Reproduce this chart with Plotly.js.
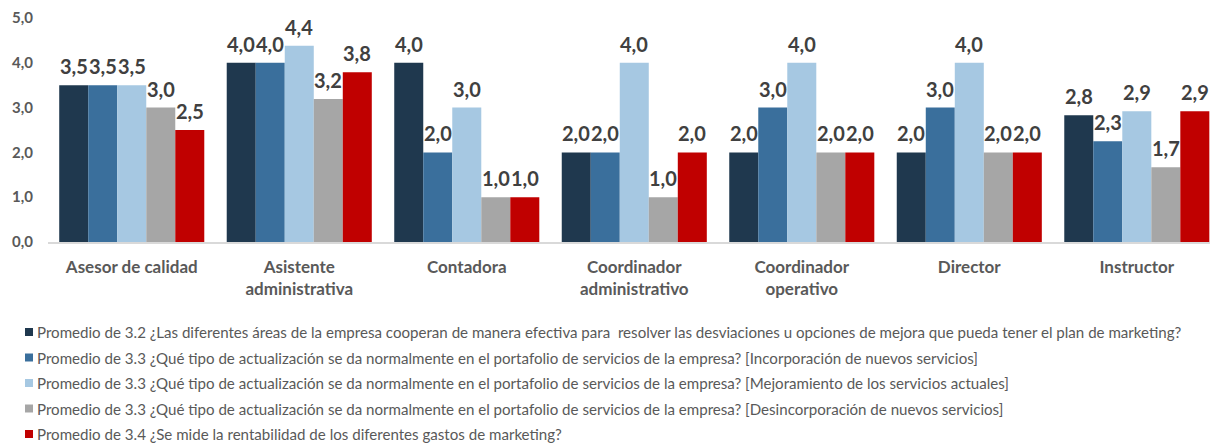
<!DOCTYPE html>
<html><head><meta charset="utf-8">
<script src="https://cdn.plot.ly/plotly-3.0.1.min.js"></script>
<style>html,body{margin:0;padding:0;background:#fff}#chart{width:1210px;height:447px}</style>
</head><body><div id="chart"></div>
<script>
const categories = ["Asesor de calidad","Asistente<br>administrativa","Contadora","Coordinador<br>administrativo","Coordinador<br>operativo","Director","Instructor"];
const seriesNames = [
 "Promedio de 3.2 ¿Las diferentes áreas de la empresa cooperan de manera efectiva para  resolver las desviaciones u opciones de mejora que pueda tener el plan de marketing?",
 "Promedio de 3.3 ¿Qué tipo de actualización se da normalmente en el portafolio de servicios de la empresa? [Incorporación de nuevos servicios]",
 "Promedio de 3.3 ¿Qué tipo de actualización se da normalmente en el portafolio de servicios de la empresa? [Mejoramiento de los servicios actuales]",
 "Promedio de 3.3 ¿Qué tipo de actualización se da normalmente en el portafolio de servicios de la empresa? [Desincorporación de nuevos servicios]",
 "Promedio de 3.4 ¿Se mide la rentabilidad de los diferentes gastos de marketing?"
];
const s1 = [3.5, 4.0, 4.0, 2.0, 2.0, 2.0, 2.83];
const s2 = [3.5, 4.0, 2.0, 2.0, 3.0, 3.0, 2.25];
const s3 = [3.5, 4.38, 3.0, 4.0, 4.0, 4.0, 2.92];
const s4 = [3.0, 3.19, 1.0, 1.0, 2.0, 2.0, 1.67];
const s5 = [2.5, 3.79, 1.0, 2.0, 2.0, 2.0, 2.92];
const series = [s1,s2,s3,s4,s5];
const colors = ["#1F384E","#3A6F9C","#A6C8E2","#A6A6A6","#C00000"];
const FONT = "Lato, 'Open Sans', sans-serif";
const fmt = v => v.toFixed(1).replace('.', ',');

const W = 1210, H = 447, ML = 48, MR = 0, MT = 18, MB = 205;
const xr = [-0.5, 6.437], bargap = 0.134;
const catPx = (W - ML - MR) / (xr[1] - xr[0]);
const barPx = catPx * (1 - bargap) / series.length;

const data = series.map((s,i)=>({
  type:'bar', x:categories, y:s, name:seriesNames[i],
  marker:{color:colors[i]}, hoverinfo:'none', showlegend:false
}));

const annotations = [];
series.forEach((s,i)=>{
  s.forEach((v,j)=>{
    annotations.push({x:categories[j], y:v, xref:'x', yref:'y', text:fmt(v), showarrow:false,
      xanchor:'center', yanchor:'bottom', xshift:(i-(series.length-1)/2)*barPx, yshift:5,
      font:{family:FONT, size:20, color:'#404040', weight:'bold'}});
  });
});
// legend
const legTop = 332, legStep = 25.5;
const shapes = [];
const pw = W-ML-MR, ph = H-MT-MB;
seriesNames.forEach((n,i)=>{
  const yc = legTop + i*legStep;
  annotations.push({xref:'paper', yref:'paper', x:(35-ML)/pw, y:1-(yc-MT)/ph,
    xanchor:'left', yanchor:'middle', text:n, showarrow:false,
    font:{family:FONT, size:15.1, color:'#595959'}});
  shapes.push({type:'rect', xref:'paper', yref:'paper',
    x0:(25-ML)/pw, x1:(33-ML)/pw,
    y0:1-(yc-4-MT)/ph, y1:1-(yc+4-MT)/ph,
    fillcolor:colors[i], line:{width:0}});
});

const layout = {
  width:W, height:H,
  margin:{l:ML, r:MR, t:MT, b:MB},
  barmode:'group', bargap:bargap, bargroupgap:0,
  font:{family:FONT, color:'#595959'},
  plot_bgcolor:'#fff', paper_bgcolor:'#fff',
  xaxis:{range:xr, showgrid:false, showline:true, linecolor:'#D9D9D9', linewidth:1.5, ticks:'',
    tickfont:{family:FONT, size:17, color:'#595959', weight:'bold'}, ticklabelstandoff:9, fixedrange:true},
  yaxis:{range:[0,5], dtick:1, tickformat:'.1f', showgrid:false, zeroline:false, ticks:'',
    tickfont:{family:FONT, size:15, color:'#595959', weight:'bold'}, ticklabelstandoff:14, fixedrange:true},
  separators:',.',
  showlegend:false,
  annotations:annotations, shapes:shapes
};
Plotly.newPlot('chart', data, layout, {displayModeBar:false, staticPlot:true});
</script></body></html>
